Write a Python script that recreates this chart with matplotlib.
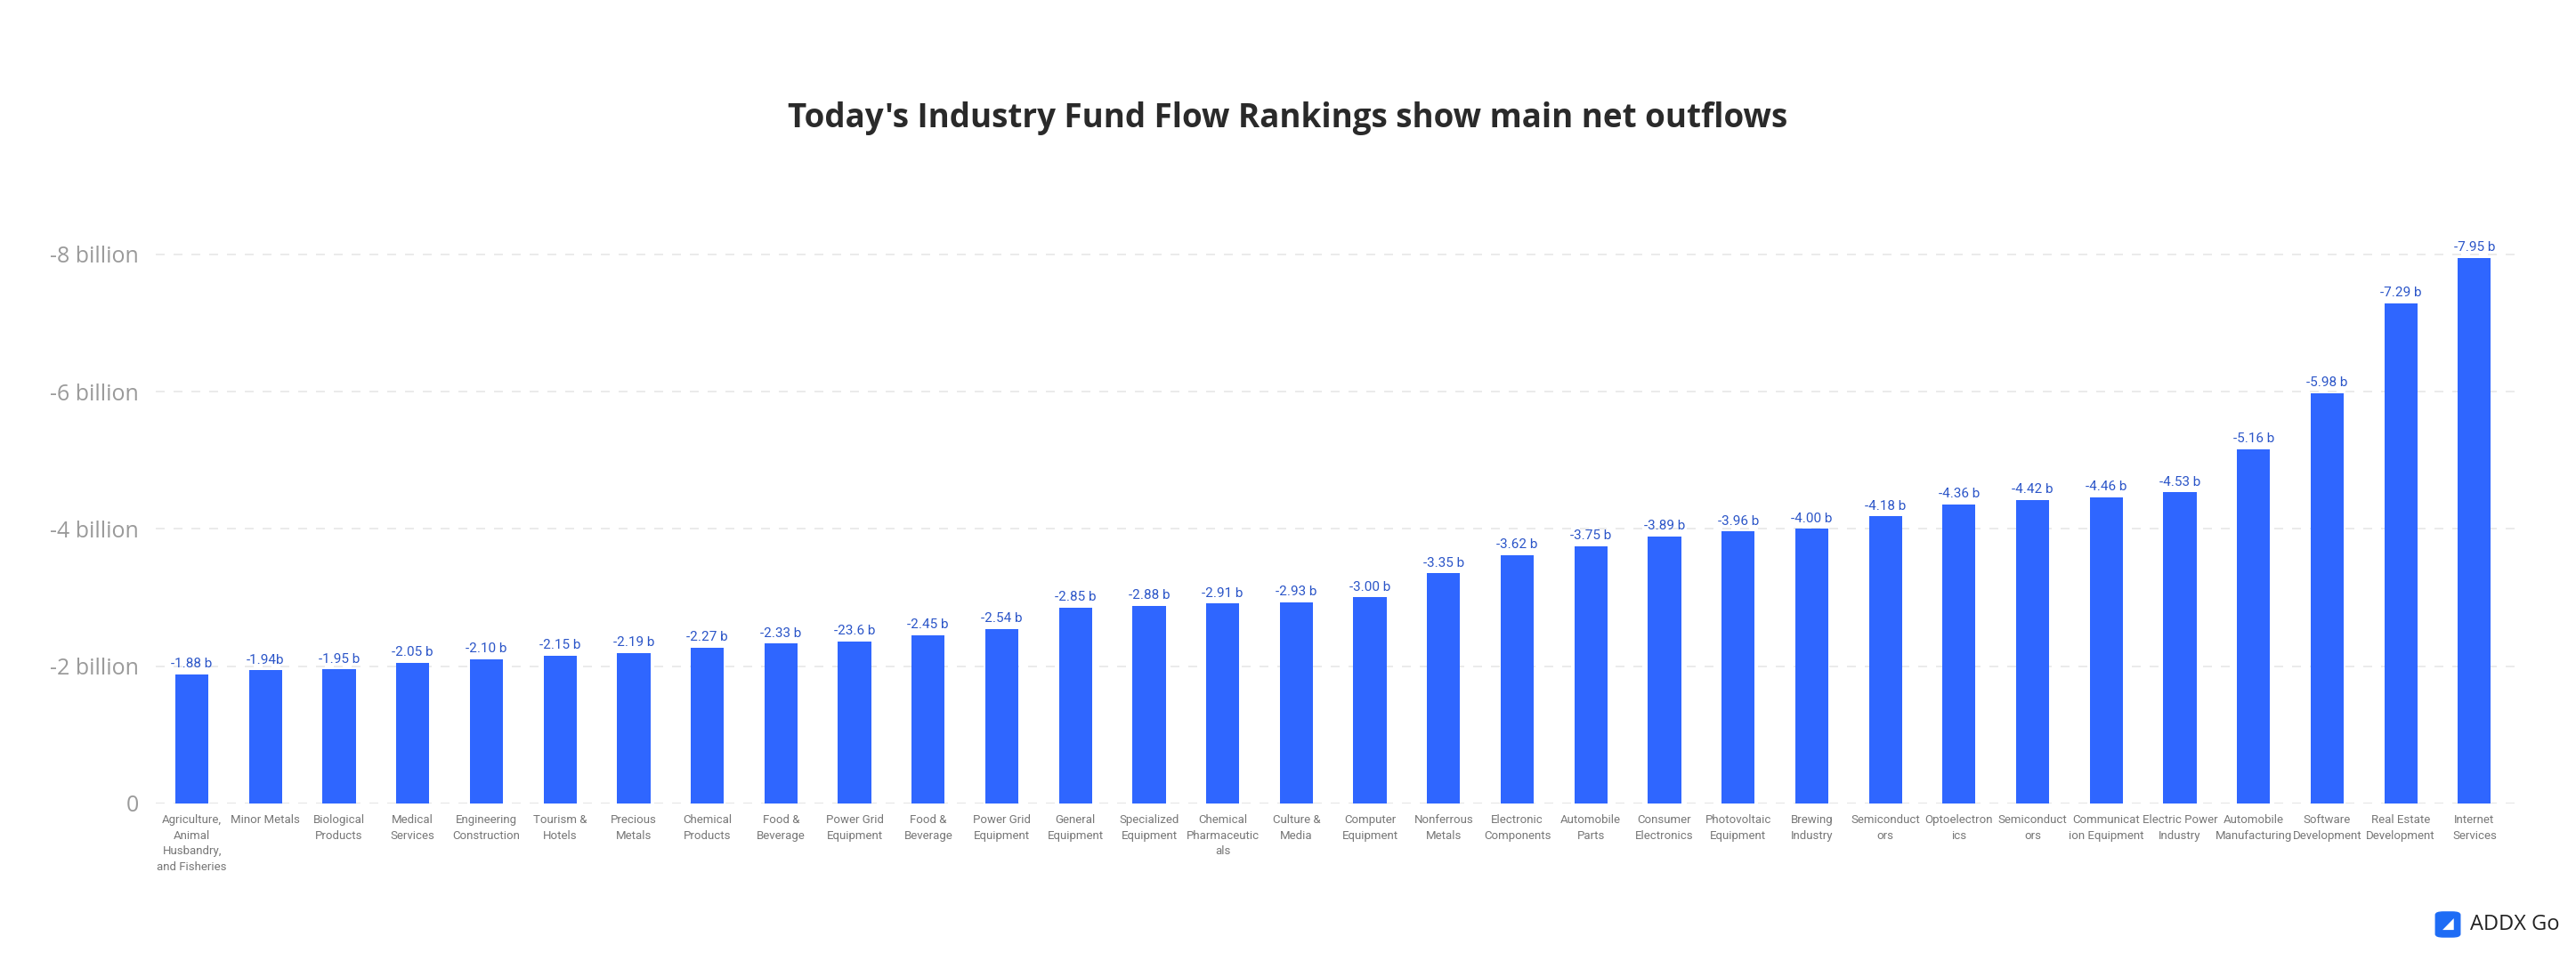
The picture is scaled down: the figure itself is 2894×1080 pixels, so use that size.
import matplotlib
matplotlib.use('Agg')
import matplotlib.pyplot as plt
from matplotlib.patches import FancyBboxPatch
from matplotlib import font_manager
import numpy as np

plt.rcParams['font.family'] = ['Open Sans', 'DejaVu Sans']
names = {f.name for f in font_manager.fontManager.ttflist}
narrow = 'Liberation Sans Narrow' if 'Liberation Sans Narrow' in names else 'Roboto'

categories = [
    'Agriculture,\nAnimal\nHusbandry,\nand Fisheries', 'Minor Metals', 'Biological\nProducts',
    'Medical\nServices', 'Engineering\nConstruction', 'Tourism &\nHotels', 'Precious\nMetals',
    'Chemical\nProducts', 'Food &\nBeverage', 'Power Grid\nEquipment', 'Food &\nBeverage',
    'Power Grid\nEquipment', 'General\nEquipment', 'Specialized\nEquipment',
    'Chemical\nPharmaceutic\nals', 'Culture &\nMedia', 'Computer\nEquipment', 'Nonferrous\nMetals',
    'Electronic\nComponents', 'Automobile\nParts', 'Consumer\nElectronics', 'Photovoltaic\nEquipment',
    'Brewing\nIndustry', 'Semiconduct\nors', 'Optoelectron\nics', 'Semiconduct\nors',
    'Communicat\nion Equipment', 'Electric Power\nIndustry', 'Automobile\nManufacturing',
    'Software\nDevelopment', 'Real Estate\nDevelopment', 'Internet\nServices',
]
values = [-1.88, -1.94, -1.95, -2.05, -2.10, -2.15, -2.19, -2.27, -2.33, -2.36, -2.45, -2.54,
          -2.85, -2.88, -2.91, -2.93, -3.00, -3.35, -3.62, -3.75, -3.89, -3.96, -4.00, -4.18,
          -4.36, -4.42, -4.46, -4.53, -5.16, -5.98, -7.29, -7.95]
value_labels = ['-1.88 b', '-1.94b', '-1.95 b', '-2.05 b', '-2.10 b', '-2.15 b', '-2.19 b',
                '-2.27 b', '-2.33 b', '-23.6 b', '-2.45 b', '-2.54 b', '-2.85 b', '-2.88 b',
                '-2.91 b', '-2.93 b', '-3.00 b', '-3.35 b', '-3.62 b', '-3.75 b', '-3.89 b',
                '-3.96 b', '-4.00 b', '-4.18 b', '-4.36 b', '-4.42 b', '-4.46 b', '-4.53 b',
                '-5.16 b', '-5.98 b', '-7.29 b', '-7.95 b']
yticks = [0, -2, -4, -6, -8]
ytick_labels = ['0', '-2 billion', '-4 billion', '-6 billion', '-8 billion']

fig = plt.figure(figsize=(28.94, 10.8), dpi=100)
ax = fig.add_axes([0.0605, 0.164, 0.9155, 0.60])

x = np.arange(len(values))
ax.bar(x, values, width=0.45, color='#2f66ff', zorder=3)
ax.set_ylim(0, -8.4)
ax.set_xlim(-0.49, len(values) - 0.46)

for xi, v, lab in zip(x, values, value_labels):
    ax.text(xi, v - 0.06, lab, ha='center', va='bottom', fontsize=11, color='#2b55c8',
            family=[narrow, 'DejaVu Sans'], zorder=4)

ax.set_yticks(yticks)
ax.set_yticklabels(ytick_labels, fontsize=18, color='#9a9a9a')
ax.set_xticks(x)
ax.set_xticklabels(categories, fontsize=9.5, color='#777777', linespacing=1.45, va='top',
                   family=[narrow, 'DejaVu Sans'])
ax.tick_params(axis='both', length=0)
ax.tick_params(axis='y', pad=14)
ax.tick_params(axis='x', pad=9)
ax.grid(axis='y', color='#e8e8e8', linestyle=(0, (6, 6)), linewidth=1.2, zorder=0)
for s in ax.spines.values():
    s.set_visible(False)
ax.axhline(0, color='#cccccc', linestyle=(0, (6, 6)), linewidth=1.2, zorder=1)

fig.text(0.5, 0.877, "Today's Industry Fund Flow Rankings show main net outflows",
         ha='center', va='center', fontsize=26.5, fontweight='bold', color='#2a2a2a')

# watermark
logo = FancyBboxPatch((0.9455, 0.025), 0.0095, 0.026, boxstyle='round,pad=0,rounding_size=0.003',
                      transform=fig.transFigure, color='#1e6cf5')
fig.patches.append(logo)
fig.text(0.9502, 0.038, '◢', ha='center', va='center', fontsize=12, color='white',
         family=['DejaVu Sans'])
fig.text(0.959, 0.038, 'ADDX Go', ha='left', va='center', fontsize=17, color='#222222')

fig.savefig('out.png', dpi=100)
